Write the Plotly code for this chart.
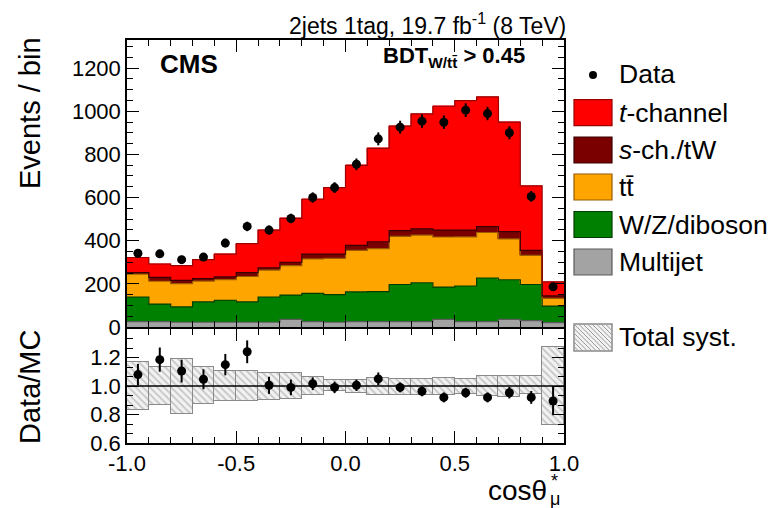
import numpy as np
import plotly.graph_objects as go

# ---------------- data ----------------
bin_edges = [-1.0, -0.9, -0.8, -0.7, -0.6, -0.5, -0.4, -0.3, -0.2, -0.1, 0.0,
             0.1, 0.2, 0.3, 0.4, 0.5, 0.6, 0.7, 0.8, 0.9, 1.0]
bin_centers = [-0.95, -0.85, -0.75, -0.65, -0.55, -0.45, -0.35, -0.25, -0.15, -0.05,
               0.05, 0.15, 0.25, 0.35, 0.45, 0.55, 0.65, 0.75, 0.85, 0.95]

multijet = [25, 25, 22, 22, 22, 22, 22, 35, 25, 22, 25, 25, 25, 25, 35, 25, 25, 35, 30, 20]
wz_diboson = [114, 81, 71, 94, 102, 94, 117, 113, 131, 128, 138, 139, 172, 180, 150, 165, 202, 184, 167, 77]
ttbar = [106, 106, 108, 97, 96, 118, 125, 136, 160, 168, 192, 199, 223, 221, 232, 228, 211, 189, 135, 36]
s_ch_tw = [7, 18, 15, 11, 12, 18, 10, 16, 22, 20, 23, 32, 27, 29, 32, 31, 27, 34, 23, 11]
t_channel = [70, 62, 68, 88, 106, 134, 175, 203, 254, 308, 371, 433, 484, 533, 574, 600, 601, 507, 299, 65]

data = [342, 339, 312, 324, 389, 466, 449, 503, 600, 646, 754, 872, 926, 954, 949, 1005, 989, 900, 605, 186]
data_err = [18, 18, 18, 18, 20, 22, 21, 22, 24, 25, 27, 30, 30, 31, 31, 32, 31, 30, 25, 14]

ratio = [1.08, 1.185, 1.105, 1.047, 1.15, 1.24, 1.005, 0.99, 1.016, 0.99,
         1.005, 1.05, 0.99, 0.963, 0.92, 0.953, 0.92, 0.953, 0.92, 0.895]
ratio_err = [0.075, 0.085, 0.08, 0.07, 0.075, 0.08, 0.06, 0.055, 0.045, 0.04,
             0.04, 0.045, 0.035, 0.035, 0.035, 0.035, 0.035, 0.04, 0.045, 0.1]
syst_hi = [1.168, 1.133, 1.19, 1.133, 1.103, 1.103, 1.094, 1.09, 1.06, 1.04,
           1.04, 1.056, 1.05, 1.047, 1.056, 1.047, 1.07, 1.07, 1.07, 1.274]
syst_lo = [0.829, 0.864, 0.806, 0.876, 0.895, 0.895, 0.9, 0.906, 0.94, 0.963,
           0.95, 0.935, 0.94, 0.94, 0.94, 0.946, 0.93, 0.923, 0.946, 0.724]

main_yticks = [0, 200, 400, 600, 800, 1000, 1200]
ratio_yticks = [0.6, 0.8, 1.0, 1.2]
x_ticks = [-1.0, -0.5, 0.0, 0.5, 1.0]

# ---------------- styling ----------------
FONT = "Liberation Sans"
OFF = 8                      # page body margin offset of the figure div
W, H = 777 - OFF, 508 - OFF
# desired page pixel positions of the plot frame
P_LEFT, P_RIGHT, P_TOP, P_BOTTOM = 127, 564, 40, 443
ML = P_LEFT - OFF
MR = W - (P_RIGHT - OFF)
MT = P_TOP - OFF
MB = H - (P_BOTTOM - OFF)
PW, PH = W - ML - MR, H - MT - MB


def px(x):
    return (x - P_LEFT) / PW


def py(y):
    return (P_BOTTOM - y) / PH


components = [
    ("Multijet", multijet, "#a3a3a3", "#5a5a5a"),
    ("W/Z/diboson", wz_diboson, "#008000", "#003d00"),
    ("tt̄", ttbar, "#ffa500", "#9a5a00"),
    ("s-ch./tW", s_ch_tw, "#7a0000", "#3a0000"),
    ("t-channel", t_channel, "#ff0000", "#9a0000"),
]

fig = go.Figure()

for name, vals, col, lcol in components:
    fig.add_trace(go.Bar(x=bin_centers, y=vals, width=0.1, name=name,
                         marker=dict(color=col, line=dict(color=col, width=0.5)),
                         xaxis="x", yaxis="y", showlegend=False))

# outlines of stacked histograms
cum = np.zeros(len(bin_centers))
for name, vals, col, lcol in components:
    cum = cum + np.array(vals)
    ys = list(cum) + [cum[-1]]
    fig.add_trace(go.Scatter(x=bin_edges, y=ys, mode="lines", line_shape="hv",
                             line=dict(color=lcol, width=1.2), xaxis="x", yaxis="y",
                             showlegend=False, hoverinfo="skip"))

fig.add_trace(go.Scatter(x=bin_centers, y=data, mode="markers",
                         marker=dict(color="black", size=9),
                         error_y=dict(type="data", array=data_err, width=0, thickness=2, color="black"),
                         xaxis="x", yaxis="y", showlegend=False))

# ratio panel
syst_h = [h - l for h, l in zip(syst_hi, syst_lo)]
fig.add_trace(go.Bar(x=bin_centers, y=syst_h, base=syst_lo, width=0.1,
                     marker=dict(color="#f2f2f2", line=dict(color="#8a8a8a", width=1.5),
                                 pattern=dict(shape="\\", fgcolor="#9a9a9a", bgcolor="#f2f2f2",
                                              size=5, solidity=0.35)),
                     xaxis="x2", yaxis="y2", showlegend=False))
fig.add_shape(type="line", xref="x2", yref="y2", x0=-1, x1=1, y0=1, y1=1,
              line=dict(color="black", width=1.5))
fig.add_trace(go.Scatter(x=bin_centers, y=ratio, mode="markers",
                         marker=dict(color="black", size=9),
                         error_y=dict(type="data", array=ratio_err, width=0, thickness=2, color="black"),
                         xaxis="x2", yaxis="y2", showlegend=False))

axis_common = dict(showline=True, linecolor="black", linewidth=1.5, mirror="allticks",
                   ticks="inside", tickcolor="black", tickwidth=1.2, showgrid=False,
                   zeroline=False, tickfont=dict(family=FONT, size=22, color="black"))

main_bottom = (P_BOTTOM - 327) / PH
ratio_top = (P_BOTTOM - 329) / PH

fig.update_layout(
    width=W, height=H, margin=dict(l=ML, r=MR, t=MT, b=MB, pad=0),
    paper_bgcolor="white", plot_bgcolor="white",
    barmode="stack", bargap=0,
    font=dict(family=FONT, color="black"),
    xaxis=dict(axis_common, domain=[0, 1], anchor="y", range=[-1, 1], matches="x2",
               tickvals=x_ticks, ticklen=12, showticklabels=False,
               minor=dict(dtick=0.1, tick0=-1, ticklen=6, ticks="inside", tickcolor="black", showgrid=False)),
    yaxis=dict(axis_common, domain=[main_bottom, 1], anchor="x", range=[0, 1330],
               tickvals=main_yticks, ticklen=12,
               minor=dict(dtick=50, tick0=0, ticklen=6, ticks="inside", tickcolor="black", showgrid=False)),
    xaxis2=dict(axis_common, domain=[0, 1], anchor="y2", range=[-1, 1],
                tickvals=x_ticks, ticktext=["-1.0", "-0.5", "0.0", "0.5", "1.0"], ticklen=12,
                minor=dict(dtick=0.1, tick0=-1, ticklen=6, ticks="inside", tickcolor="black", showgrid=False)),
    yaxis2=dict(axis_common, domain=[0, ratio_top], anchor="x2", range=[0.6, 1.4],
                tickvals=ratio_yticks, ticktext=["0.6", "0.8", "1.0", "1.2"], ticklen=12,
                minor=dict(dtick=0.2 / 3, tick0=0.6, ticklen=6, ticks="inside", tickcolor="black", showgrid=False)),
)

ann = []


def text(x, y, s, size, xanchor="left", yanchor="middle", angle=0, **kw):
    ann.append(dict(x=px(x), y=py(y), xref="paper", yref="paper", text=s, showarrow=False,
                    xanchor=xanchor, yanchor=yanchor, textangle=angle,
                    font=dict(family=FONT, size=size, color="black"), **kw))


text(568, 24, "2jets 1tag, 19.7 fb<sup>-1</sup> (8 TeV)", 23, xanchor="right")
text(158, 64, "<b>CMS</b>", 26)
text(527, 57, "<b>BDT<sub>W/tt̄</sub> > 0.45</b>", 22, xanchor="right")
text(30, 113, "Events / bin", 29, xanchor="center", yanchor="middle", angle=-90)
text(30, 387, "Data/MC", 29, xanchor="center", yanchor="middle", angle=-90)
text(549, 490, "cosθ", 28, xanchor="right")
text(549, 481, "*", 18)
text(548, 499, "μ", 18)

# legend
legend_rows = [
    ("<i>t</i>-channel", 112.7, "#ff0000", "#9a0000"),
    ("<i>s</i>-ch./tW", 150, "#7a0000", "#3a0000"),
    ("tt̄", 187, "#ffa500", "#9a5a00"),
    ("W/Z/diboson", 224.5, "#008000", "#003d00"),
    ("Multijet", 262, "#a3a3a3", "#5a5a5a"),
]
shapes = []
bx0, bx1 = 574, 612
for lab, yc, col, lcol in legend_rows:
    shapes.append(dict(type="rect", xref="paper", yref="paper",
                       x0=px(bx0), x1=px(bx1), y0=py(yc - 13), y1=py(yc + 13),
                       fillcolor=col, line=dict(color=lcol, width=1.2)))
    text(617, yc, lab, 26.5)

# data legend marker
shapes.append(dict(type="circle", xref="paper", yref="paper",
                   x0=px(589), x1=px(597), y0=py(71), y1=py(79),
                   fillcolor="black", line=dict(color="black", width=0)))
text(617, 74, "Data", 26.5)

# total syst legend box with hatching
sy0, sy1 = 324, 351
shapes.append(dict(type="rect", xref="paper", yref="paper",
                   x0=px(bx0), x1=px(bx1), y0=py(sy1), y1=py(sy0),
                   fillcolor="#f2f2f2", line=dict(color="#8a8a8a", width=1.5)))
hh = sy1 - sy0
c = bx0 - hh
while c < bx1:
    ya = max(sy0, sy0 + (bx0 - c))
    yb = min(sy1, sy0 + (bx1 - c))
    if yb > ya:
        xa = c + (ya - sy0)
        xb = c + (yb - sy0)
        shapes.append(dict(type="line", xref="paper", yref="paper",
                           x0=px(xa), x1=px(xb), y0=py(ya), y1=py(yb),
                           line=dict(color="#9a9a9a", width=1)))
    c += 4.5
text(617, 337, "Total syst.", 26.5)

fig.update_layout(annotations=ann, shapes=fig.layout.shapes + tuple(shapes))

fig.write_html("out.html")
